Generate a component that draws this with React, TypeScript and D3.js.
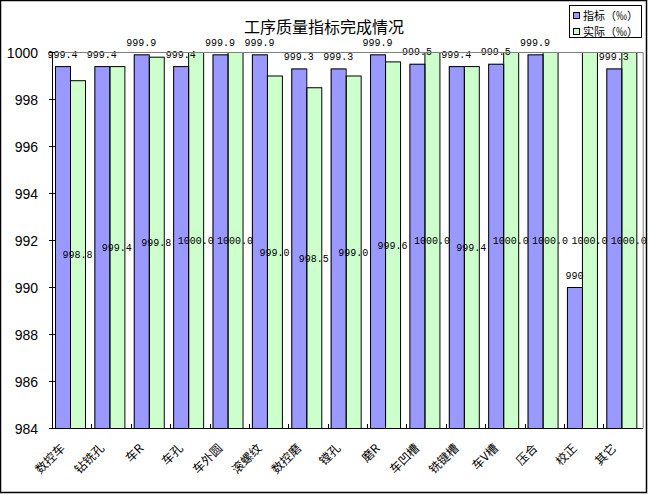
import { useEffect, useRef } from "react";
import * as d3 from "d3";

// Données
const categories = [
  "数控车", "钻铣孔", "车R", "车孔", "车外圆", "滚螺纹", "数控磨", "镗孔",
  "磨R", "车凹槽", "铣键槽", "车V槽", "压合", "校正", "其它"
];
const targetValues = [
  999.4, 999.4, 999.9, 999.4, 999.9, 999.9, 999.3, 999.3,
  999.9, 999.5, 999.4, 999.5, 999.9, 990, 999.3
];
const actualValues = [
  998.8, 999.4, 999.8, 1000.0, 1000.0, 999.0, 998.5, 999.0,
  999.6, 1000.0, 999.4, 1000.0, 1000.0, 1000.0, 1000.0
];
const seriesNames = ["指标（‰）", "实际（‰）"];
const yTicks = [984, 986, 988, 990, 992, 994, 996, 998, 1000];
const title = "工序质量指标完成情况";

const WIDTH = 649;
const HEIGHT = 495;
const COLORS = ["#9999ff", "#ccffcc"];
const CJK = "'Noto Sans CJK SC', sans-serif";
const MONO = "'Liberation Mono', monospace";

export default function App() {
  const svgRef = useRef<SVGSVGElement>(null);

  useEffect(() => {
    if (!svgRef.current) return;
    const svg = d3.select(svgRef.current);
    svg.selectAll("*").remove();

    const plot = { left: 52, top: 52, right: 642.7, bottom: 428 };

    // Échelles
    const x0 = d3.scaleBand().domain(categories).range([plot.left, plot.right]);
    const x1 = d3.scaleBand().domain(["0", "1"]).range([3, 33]);
    const y = d3
      .scaleLinear()
      .domain([yTicks[0], yTicks[yTicks.length - 1]])
      .range([plot.bottom, plot.top]);

    const series = [
      { key: "0", values: targetValues, fmt: (d: number) => String(d) },
      { key: "1", values: actualValues, fmt: (d: number) => d.toFixed(1) }
    ];

    const rows = series.flatMap((s, si) =>
      s.values.map((v, i) => ({ cat: categories[i], v, si, key: s.key, fmt: s.fmt }))
    );

    // Fond et cadre
    svg.append("rect")
      .attr("x", 0.5).attr("y", 0.5)
      .attr("width", WIDTH - 3).attr("height", HEIGHT - 3)
      .attr("fill", "#fff").attr("stroke", "#000").attr("stroke-width", 1.5);

    // Barres (remplissage)
    const bx = (d: any) => (x0(d.cat) || 0) + (x1(d.key) || 0);
    svg.append("g").selectAll("rect").data(rows).enter().append("rect")
      .attr("x", bx)
      .attr("y", (d) => y(d.v))
      .attr("width", x1.bandwidth())
      .attr("height", (d) => plot.bottom - y(d.v))
      .attr("fill", (d) => COLORS[d.si]);

    // Étiquettes de valeurs
    svg.append("g").selectAll("text").data(rows).enter().append("text")
      .attr("x", (d) => bx(d) + x1.bandwidth() / 2)
      .attr("y", (d) => (d.si === 0 ? y(d.v) - 8.5 : (y(d.v) + plot.bottom) / 2 + 4))
      .attr("text-anchor", "middle")
      .style("font-family", MONO)
      .style("font-size", "10px")
      .style("fill", "#000")
      .text((d) => d.fmt(d.v));

    // Contours des barres
    svg.append("g").selectAll("rect").data(rows).enter().append("rect")
      .attr("x", (d) => bx(d) + 0.5)
      .attr("y", (d) => y(d.v) + 0.5)
      .attr("width", x1.bandwidth())
      .attr("height", (d) => plot.bottom - y(d.v))
      .attr("fill", "none")
      .attr("stroke", "#000")
      .attr("stroke-width", 1);

    // Bord de la zone de tracé
    svg.append("path")
      .attr("d", `M${plot.left},${plot.top + 0.5}H${plot.right + 0.5}V${plot.bottom}`)
      .attr("fill", "none").attr("stroke", "#808080");

    // Axe Y
    svg.append("line")
      .attr("x1", plot.left + 0.5).attr("x2", plot.left + 0.5)
      .attr("y1", plot.top).attr("y2", plot.bottom + 0.5)
      .attr("stroke", "#000");
    const yt = svg.append("g").selectAll("g").data(yTicks).enter().append("g");
    yt.append("line")
      .attr("x1", plot.left - 3).attr("x2", plot.left + 3)
      .attr("y1", (d) => Math.round(y(d)) + 0.5).attr("y2", (d) => Math.round(y(d)) + 0.5)
      .attr("stroke", "#000");
    yt.append("text")
      .attr("x", 38).attr("y", (d) => y(d) + 6)
      .attr("text-anchor", "end")
      .style("font-family", "'Liberation Sans', Arial, sans-serif")
      .style("font-size", "14px")
      .text((d) => String(d));

    // Axe X
    svg.append("line")
      .attr("x1", plot.left).attr("x2", plot.right + 0.5)
      .attr("y1", plot.bottom + 0.5).attr("y2", plot.bottom + 0.5)
      .attr("stroke", "#000");
    svg.append("g").selectAll("line").data(categories.slice(1)).enter().append("line")
      .attr("x1", (d) => Math.round(x0(d) || 0) + 0.5)
      .attr("x2", (d) => Math.round(x0(d) || 0) + 0.5)
      .attr("y1", plot.bottom - 4).attr("y2", plot.bottom)
      .attr("stroke", "#000");
    svg.append("g").selectAll("text").data(categories).enter().append("text")
      .attr("transform", (d) =>
        `translate(${(x0(d) || 0) + x0.bandwidth() / 2 - 6},449) rotate(-45)`)
      .attr("text-anchor", "end")
      .style("font-family", CJK)
      .style("font-size", "12px")
      .text((d) => d);

    // Titre
    svg.append("text")
      .attr("x", 324).attr("y", 33)
      .attr("text-anchor", "middle")
      .style("font-family", CJK)
      .style("font-size", "16px")
      .text(title);

    // Légende
    const lg = svg.append("g");
    lg.append("rect")
      .attr("x", 569.5).attr("y", 5.5).attr("width", 72).attr("height", 32)
      .attr("fill", "#fff").attr("stroke", "#000");
    seriesNames.forEach((name, i) => {
      const cy = 16 + i * 16;
      lg.append("rect")
        .attr("x", 573.5).attr("y", cy - 3.5).attr("width", 6).attr("height", 6)
        .attr("fill", COLORS[i]).attr("stroke", "#000");
      lg.append("text")
        .attr("x", 583).attr("y", cy + 4)
        .style("font-family", CJK)
        .style("font-size", "11px")
        .text(name);
    });
  }, []);

  return (
    <svg
      ref={svgRef}
      width={WIDTH}
      height={HEIGHT}
      style={{ position: "absolute", left: 0, top: 0, display: "block" }}
    />
  );
}
